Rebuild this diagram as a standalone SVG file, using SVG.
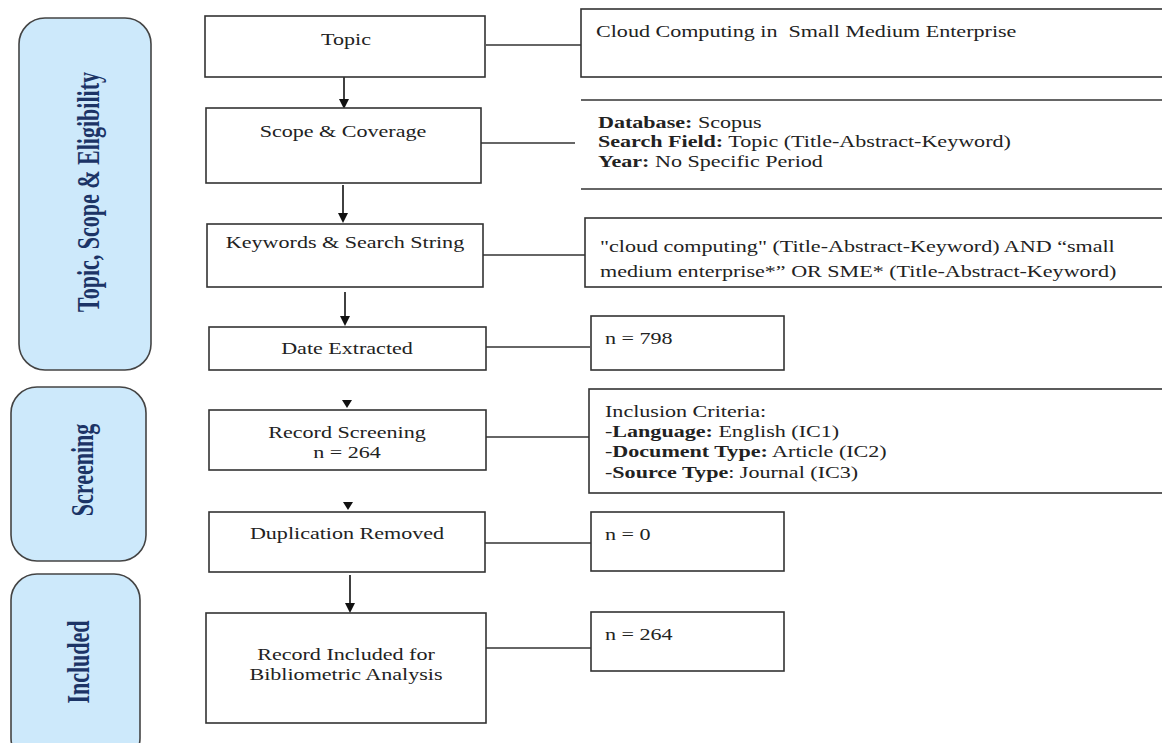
<svg xmlns="http://www.w3.org/2000/svg" width="1162" height="743" viewBox="0 0 1162 743">
<defs>
<style>
.side{fill:#cde9fb;stroke:#444;stroke-width:1.6}
.box{fill:#fff;stroke:#333;stroke-width:1.6}
.st{font-family:"Liberation Serif","Times New Roman",serif;font-size:22px;font-weight:bold;fill:#1c3466}
.t{font-family:"Liberation Serif","Times New Roman",serif;font-size:16px;fill:#222}
.b{font-weight:bold}
.c{text-anchor:middle}
.ln{stroke:#333;stroke-width:1.5;fill:none}
.ar{stroke:#111;stroke-width:1.6;fill:none}
.hd{fill:#111}
</style>
</defs>
<rect width="1162" height="743" fill="#fff"/>

<g id="phase-topic">
<rect class="side" x="19" y="18" width="132" height="352" rx="26"/>
<text class="st c" transform="matrix(1.45 0 0 1 88 192) rotate(-90)" dy="0.35em">Topic, Scope &amp; Eligibility</text>
</g>
<g id="phase-screening">
<rect class="side" x="11" y="387" width="135" height="174" rx="26"/>
<text class="st c" transform="matrix(1.45 0 0 1 82 470) rotate(-90)" dy="0.35em">Screening</text>
</g>
<g id="phase-included">
<rect class="side" x="11" y="574" width="129" height="190" rx="26"/>
<text class="st c" transform="matrix(1.45 0 0 1 78 662) rotate(-90)" dy="0.35em">Included</text>
</g>

<g id="connectors">
<line class="ln" x1="486" y1="45" x2="582" y2="45"/>
<line class="ln" x1="481" y1="143" x2="575" y2="143"/>
<line class="ln" x1="483" y1="255" x2="585" y2="255"/>
<line class="ln" x1="486" y1="347" x2="590" y2="347"/>
<line class="ln" x1="486" y1="437" x2="589" y2="437"/>
<line class="ln" x1="485" y1="543" x2="591" y2="543"/>
<line class="ln" x1="486" y1="648" x2="591" y2="648"/>
<path class="ar" d="M344,77 L344,100"/>
<polygon class="hd" points="339,99 349,99 344,109"/>
<path class="ar" d="M343,185 L343,214"/>
<polygon class="hd" points="338,213 348,213 343,223"/>
<path class="ar" d="M345,292 L345,317"/>
<polygon class="hd" points="340,316 350,316 345,326"/>
<polygon class="hd" points="342,400 352,400 347,408"/>
<polygon class="hd" points="343,502 353,502 348,510"/>
<path class="ar" d="M350,575 L350,604"/>
<polygon class="hd" points="345,603 355,603 350,613"/>
</g>

<g id="n-topic">
<rect class="box" x="205" y="16" width="280" height="61"/>
<text class="t c" transform="matrix(1.38 0 0 1 346 45)">Topic</text>
</g>
<g id="n-scope">
<rect class="box" x="206" y="108" width="275" height="75"/>
<text class="t c" transform="matrix(1.38 0 0 1 343 137)">Scope &amp; Coverage</text>
</g>
<g id="n-keywords">
<rect class="box" x="207" y="224" width="276" height="63"/>
<text class="t c" transform="matrix(1.38 0 0 1 345 248)">Keywords &amp; Search String</text>
</g>
<g id="n-date">
<rect class="box" x="209" y="327" width="277" height="43"/>
<text class="t c" transform="matrix(1.38 0 0 1 347 354)">Date Extracted</text>
</g>
<g id="n-screen">
<rect class="box" x="209" y="410" width="277" height="60"/>
<text class="t c" transform="matrix(1.38 0 0 1 347 438)">Record Screening</text>
<text class="t c" transform="matrix(1.38 0 0 1 347 458)">n = 264</text>
</g>
<g id="n-dup">
<rect class="box" x="209" y="512" width="276" height="60"/>
<text class="t c" transform="matrix(1.38 0 0 1 347 539)">Duplication Removed</text>
</g>
<g id="n-included">
<rect class="box" x="206" y="613" width="280" height="110"/>
<text class="t c" transform="matrix(1.38 0 0 1 346 660)">Record Included for</text>
<text class="t c" transform="matrix(1.38 0 0 1 346 680)">Bibliometric Analysis</text>
</g>

<g id="r-topic">
<rect class="box" x="581" y="9" width="600" height="68"/>
<text class="t" transform="matrix(1.38 0 0 1 596 37)">Cloud Computing in&#160; Small Medium Enterprise</text>
</g>
<g id="r-scope">
<line class="ln" x1="581" y1="100" x2="1162" y2="100"/>
<line class="ln" x1="581" y1="189" x2="1162" y2="189"/>
<text class="t" transform="matrix(1.38 0 0 1 598 128)"><tspan class="b">Database:</tspan> Scopus</text>
<text class="t" transform="matrix(1.38 0 0 1 598 147)"><tspan class="b">Search Field:</tspan> Topic (Title-Abstract-Keyword)</text>
<text class="t" transform="matrix(1.38 0 0 1 598 167)"><tspan class="b">Year:</tspan> No Specific Period</text>
</g>
<g id="r-keywords">
<rect class="box" x="585" y="218" width="600" height="69"/>
<text class="t" transform="matrix(1.38 0 0 1 600 252)">"cloud computing" (Title-Abstract-Keyword) AND “small</text>
<text class="t" transform="matrix(1.38 0 0 1 600 277)">medium enterprise*” OR SME* (Title-Abstract-Keyword)</text>
</g>
<g id="r-date">
<rect class="box" x="591" y="316" width="193" height="54"/>
<text class="t" transform="matrix(1.38 0 0 1 605 344)">n = 798</text>
</g>
<g id="r-screen">
<rect class="box" x="589" y="389" width="600" height="104"/>
<text class="t" transform="matrix(1.38 0 0 1 605 417)">Inclusion Criteria:</text>
<text class="t" transform="matrix(1.38 0 0 1 605 437)">-<tspan class="b">Language:</tspan> English (IC1)</text>
<text class="t" transform="matrix(1.38 0 0 1 605 457)">-<tspan class="b">Document Type:</tspan> Article (IC2)</text>
<text class="t" transform="matrix(1.38 0 0 1 605 478)">-<tspan class="b">Source Type</tspan>: Journal (IC3)</text>
</g>
<g id="r-dup">
<rect class="box" x="591" y="512" width="193" height="59"/>
<text class="t" transform="matrix(1.38 0 0 1 605 540)">n = 0</text>
</g>
<g id="r-included">
<rect class="box" x="591" y="612" width="193" height="59"/>
<text class="t" transform="matrix(1.38 0 0 1 605 640)">n = 264</text>
</g>
</svg>
